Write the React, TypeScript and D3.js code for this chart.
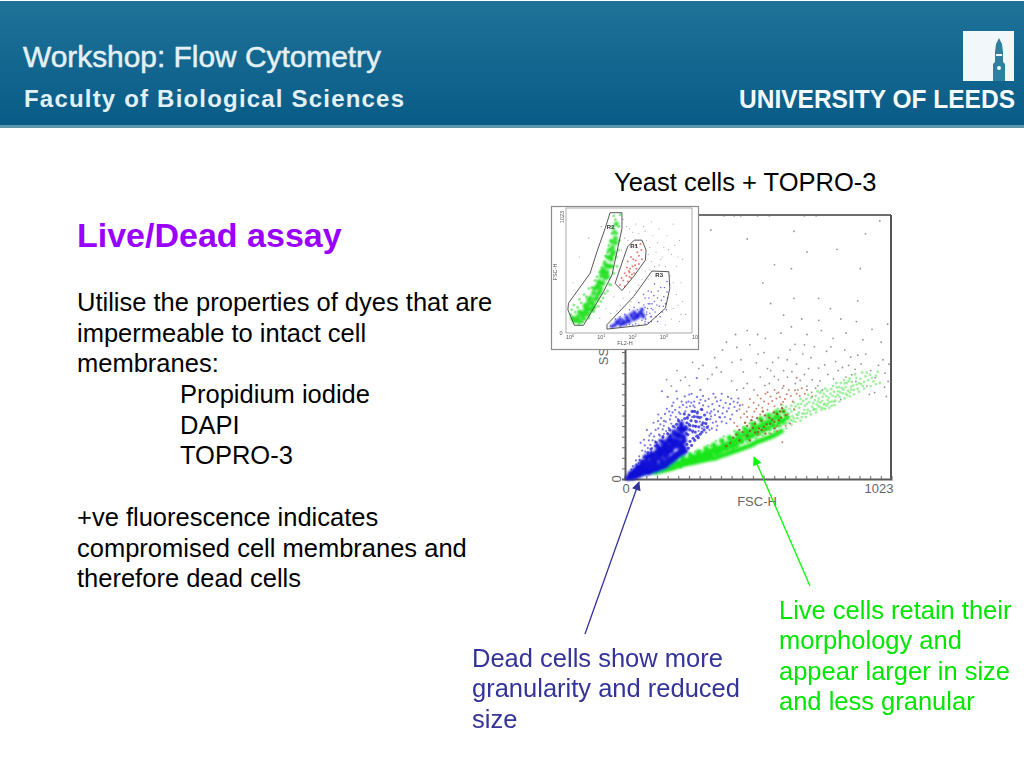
import { useEffect, useRef } from 'react';
import * as d3 from 'd3';

type Pt = [number, number];

const bodyLines = [
    { text: 'Utilise the properties of dyes that are', x: 77, y: 311 },
    { text: 'impermeable to intact cell', x: 77, y: 342 },
    { text: 'membranes:', x: 77, y: 372 },
    { text: 'Propidium iodide', x: 180, y: 403 },
    { text: 'DAPI', x: 180, y: 434 },
    { text: 'TOPRO-3', x: 180, y: 464 },
    { text: '+ve fluorescence indicates', x: 77, y: 526 },
    { text: 'compromised cell membranes and', x: 77, y: 557 },
    { text: 'therefore dead cells', x: 77, y: 587 }
];
const liveNote = ['Live cells retain their', 'morphology and', 'appear larger in size', 'and less granular'];
const deadNote = ['Dead cells show more', 'granularity and reduced', 'size'];

// main plot, FSC-H / SSC-H channels
const blueCore: Pt[] = [[12, 4], [18, 12], [24, 8], [22, 22], [30, 12], [34, 24], [38, 18], [36, 34], [42, 28], [46, 20], [50, 36], [54, 26], [48, 48], [58, 42], [62, 30], [66, 52], [70, 38], [64, 66], [74, 58], [60, 44], [78, 38], [82, 70], [86, 50], [80, 86], [92, 62], [94, 88], [98, 48], [104, 74], [108, 60], [102, 98], [112, 90], [116, 72], [118, 60], [122, 104], [128, 82], [124, 128], [132, 114], [136, 92], [140, 72], [144, 120], [148, 100], [142, 146], [152, 136], [156, 86], [158, 112], [162, 98], [166, 150], [170, 124], [174, 164], [178, 110], [180, 140], [184, 122], [188, 182], [192, 150], [196, 170], [200, 128], [204, 146], [208, 194], [212, 166], [216, 214], [220, 142], [222, 186], [226, 164], [234, 196], [28, 6], [40, 10], [52, 14], [60, 18], [70, 22], [76, 28], [84, 24], [92, 34], [96, 26], [104, 38], [110, 32], [116, 44], [124, 36], [130, 50], [136, 42], [142, 58], [148, 46], [154, 64], [160, 52], [166, 72], [172, 62], [178, 82], [184, 72], [190, 92], [196, 82], [202, 100], [208, 92], [214, 112], [220, 100], [226, 122], [232, 108], [130, 98], [138, 110], [150, 118], [160, 132], [168, 106], [176, 150], [190, 136], [204, 172], [214, 130], [228, 148], [218, 198]];
const blueMid: Pt[] = [[88, 102], [100, 116], [120, 142], [146, 164], [164, 176], [172, 190], [186, 204], [198, 212], [206, 226], [230, 234], [228, 252], [238, 218], [242, 172], [246, 248], [250, 190], [254, 226], [258, 262], [262, 206], [266, 242], [270, 182], [274, 222], [278, 256], [284, 202], [288, 238], [294, 270], [300, 218], [306, 248], [314, 232], [238, 134], [244, 120], [250, 146], [256, 130], [262, 158], [268, 150], [276, 166], [282, 160], [290, 174], [296, 182], [304, 190], [316, 200], [236, 176], [248, 210], [260, 186], [272, 204], [280, 240], [296, 210], [310, 216], [268, 262], [240, 236]];
const greenCore: Pt[] = [[60, 18], [72, 24], [84, 26], [96, 30], [90, 36], [104, 28], [110, 32], [125, 40], [140, 44], [155, 48], [170, 52], [185, 58], [200, 60], [215, 66], [230, 72], [245, 74], [260, 84], [275, 88], [290, 92], [305, 100], [320, 106], [335, 112], [350, 118], [365, 122], [380, 132], [395, 136], [410, 144], [425, 152], [440, 160], [455, 172], [470, 178], [485, 190], [500, 196], [515, 204], [530, 212], [545, 220], [560, 226], [575, 236], [590, 242], [118, 28], [132, 52], [148, 38], [162, 60], [176, 44], [192, 72], [208, 52], [222, 82], [238, 60], [252, 92], [268, 76], [282, 104], [296, 82], [312, 118], [326, 94], [342, 132], [356, 106], [372, 148], [386, 118], [402, 160], [416, 130], [432, 176], [446, 146], [462, 194], [476, 162], [492, 212], [506, 180], [522, 232], [536, 198], [552, 246], [566, 212], [582, 258], [596, 226], [610, 262], [622, 240], [120, 26], [135, 30], [150, 34], [165, 38], [180, 42], [195, 47], [210, 52], [224, 56], [240, 60], [255, 63], [270, 66], [285, 70], [300, 73], [315, 76], [330, 79], [345, 81], [360, 86], [375, 92], [390, 97], [405, 103], [420, 108], [435, 113], [450, 118], [465, 124], [481, 130], [495, 137], [510, 145], [525, 150], [540, 156], [555, 162], [570, 168], [585, 176], [600, 185], [230, 62], [250, 70], [270, 80], [290, 84], [310, 90], [330, 96], [350, 104], [370, 112], [390, 120], [410, 126], [430, 136], [450, 148], [470, 158], [490, 168], [510, 176], [530, 186], [550, 196], [570, 206], [590, 214], [610, 226]];
const redCore: Pt[] = [[470, 206], [500, 214], [525, 226], [555, 238], [585, 252], [610, 262], [440, 190], [480, 186], [515, 196], [545, 212], [575, 222], [600, 238], [452, 182], [462, 218], [492, 198], [508, 236], [534, 202], [538, 246], [566, 230], [572, 258], [592, 228], [604, 274], [618, 248], [486, 228], [428, 172], [416, 160], [530, 262], [558, 214], [512, 182], [596, 262], [440, 150], [470, 168], [500, 180], [525, 190], [390, 128], [405, 140], [480, 150], [540, 176], [575, 196]];
const blueDots: Pt[] = [[30, 50], [42, 72], [55, 88], [48, 40], [66, 110], [76, 130], [70, 70], [88, 92], [92, 150], [104, 120], [100, 176], [116, 146], [122, 105], [128, 196], [134, 168], [142, 132], [150, 225], [158, 186], [166, 150], [170, 262], [178, 214], [188, 172], [186, 296], [196, 240], [204, 200], [210, 278], [220, 228], [232, 262], [226, 190], [244, 214], [250, 282], [258, 240], [270, 225], [266, 300], [280, 262], [294, 240], [300, 285], [312, 212], [316, 258], [328, 232], [336, 290], [346, 248], [358, 262], [368, 305], [378, 276], [392, 262], [404, 290], [418, 300], [436, 312], [442, 285], [322, 310], [290, 345], [276, 391], [230, 320], [198, 340], [142, 340], [164, 318], [128, 250], [110, 218], [84, 190], [60, 140], [36, 30], [24, 36], [52, 62], [62, 52], [82, 72], [96, 90], [112, 92], [124, 132], [138, 118], [146, 160], [158, 132], [174, 170], [182, 146], [192, 200], [206, 164], [216, 182], [234, 204], [252, 205], [262, 262], [274, 242], [288, 222], [304, 202], [318, 232], [332, 262], [350, 222], [366, 238], [384, 240], [300, 322], [256, 330], [244, 300], [218, 300], [176, 246], [154, 252], [136, 212], [118, 190], [98, 132], [78, 106], [340, 330], [372, 330], [396, 318], [430, 264], [412, 250], [312, 180], [334, 196], [352, 190], [270, 205], [240, 240], [204, 232], [168, 198], [150, 175], [132, 150], [106, 150], [88, 120], [260, 180], [282, 170], [73, 152], [94, 168], [112, 165], [127, 224], [139, 236], [149, 206], [161, 272], [173, 231], [181, 283], [193, 268], [201, 311], [213, 252], [223, 287], [237, 278], [247, 327], [255, 296], [268, 278], [277, 318], [286, 294], [297, 268], [309, 303], [321, 281], [331, 243], [343, 269], [354, 301], [363, 283], [375, 254], [387, 295], [399, 274], [409, 312], [421, 279], [433, 296], [348, 316], [363, 240], [327, 254], [291, 307], [263, 284], [236, 296], [208, 258], [183, 258], [157, 222], [145, 192], [131, 172], [115, 128], [101, 104], [85, 82], [71, 84], [56, 74], [44, 56], [320, 205], [338, 218], [355, 206], [372, 222], [390, 216], [405, 232], [325, 190], [296, 196], [283, 186]];
const greenDots: Pt[] = [[70, 20], [95, 24], [120, 52], [145, 30], [165, 36], [190, 42], [215, 46], [205, 80], [235, 56], [255, 62], [250, 98], [275, 70], [295, 78], [290, 110], [315, 88], [330, 128], [345, 96], [370, 108], [375, 150], [395, 118], [405, 162], [425, 130], [440, 180], [450, 142], [470, 156], [480, 216], [490, 170], [510, 178], [520, 232], [535, 192], [555, 200], [565, 250], [570, 212], [590, 218], [600, 262], [610, 230], [620, 280], [630, 240], [640, 262], [650, 296], [660, 250], [670, 276], [675, 310], [690, 268], [700, 292], [705, 326], [720, 280], [730, 306], [740, 340], [750, 296], [760, 318], [770, 350], [780, 306], [790, 330], [800, 360], [810, 318], [820, 340], [830, 372], [840, 346], [850, 330], [860, 380], [870, 358], [880, 345], [890, 392], [900, 372], [915, 360], [925, 398], [935, 382], [950, 392], [965, 400], [980, 372], [625, 232], [645, 225], [665, 290], [685, 302], [712, 262], [735, 270], [755, 340], [775, 284], [795, 300], [815, 355], [845, 370], [865, 335], [895, 350], [680, 240], [640, 284], [600, 240], [580, 200], [545, 236], [500, 220], [455, 200], [420, 186], [380, 165], [350, 148], [320, 130], [270, 105], [230, 92], [185, 74], [150, 60], [430, 124], [470, 142], [520, 172], [560, 190], [620, 215], [633, 272], [628, 254], [644, 243], [652, 268], [656, 281], [663, 235], [669, 258], [677, 291], [683, 254], [692, 284], [698, 310], [703, 268], [709, 298], [716, 314], [724, 294], [727, 272], [733, 322], [738, 288], [745, 312], [749, 334], [753, 278], [758, 302], [764, 330], [768, 292], [773, 322], [778, 342], [783, 316], [787, 298], [793, 348], [798, 322], [804, 338], [808, 304], [813, 372], [818, 326], [824, 356], [828, 336], [835, 352], [842, 384], [848, 356], [854, 372], [858, 342], [864, 390], [872, 376], [878, 362], [885, 406], [892, 366], [905, 388], [912, 412], [920, 376], [930, 412], [942, 404], [955, 378], [972, 416], [592, 204], [606, 218], [614, 246], [638, 228], [604, 286], [588, 272], [620, 196], [640, 210], [655, 222], [675, 226], [695, 240], [715, 250], [735, 258], [755, 268], [770, 272], [785, 276], [805, 286], [825, 300], [845, 312], [865, 320], [880, 328], [900, 338], [920, 350], [945, 360], [965, 368], [600, 205], [650, 235], [700, 255], [725, 268], [745, 282], [765, 288], [795, 284], [825, 318], [855, 325], [610, 212], [630, 218], [665, 248], [690, 252], [742, 300], [762, 274], [780, 292], [805, 300], [838, 332], [870, 346], [908, 368], [575, 185], [555, 178], [530, 168], [505, 158], [480, 146]];
const redDots: Pt[] = [[420, 218], [445, 238], [468, 262], [490, 240], [505, 272], [520, 250], [535, 300], [548, 268], [560, 320], [575, 282], [590, 335], [600, 290], [615, 310], [630, 345], [645, 300], [660, 330], [680, 352], [700, 345], [720, 320], [650, 270], [625, 250], [540, 190], [585, 205], [560, 175], [510, 170], [470, 240], [495, 295], [440, 270], [610, 360], [575, 345], [540, 330], [510, 325], [480, 310], [660, 392], [635, 215], [605, 142], [432, 204], [458, 252], [476, 278], [498, 262], [514, 286], [528, 276], [552, 292], [566, 302], [582, 312], [596, 318], [608, 298], [622, 328], [638, 322], [654, 344], [672, 322], [692, 330], [548, 336], [522, 312], [452, 288], [585, 186], [618, 206]];
const greyDots: Pt[] = [[160, 385], [200, 420], [232, 395], [260, 452], [300, 440], [345, 470], [375, 500], [390, 530], [430, 510], [455, 415], [480, 520], [505, 450], [535, 490], [555, 370], [590, 470], [610, 420], [635, 500], [660, 445], [690, 520], [715, 470], [745, 430], [775, 495], [810, 455], [845, 500], [860, 440], [895, 480], [945, 420], [975, 440], [1000, 410], [430, 345], [470, 370], [520, 395], [560, 420], [590, 385], [625, 395], [655, 370], [690, 405], [720, 385], [750, 380], [780, 405], [820, 420], [850, 395], [885, 425], [930, 360], [960, 335], [1015, 445], [1005, 320], [760, 345], [700, 360], [665, 345], [410, 380], [370, 415], [335, 405], [510, 560], [540, 545], [600, 565], [640, 590], [700, 560], [755, 575], [800, 545], [850, 565], [915, 540], [950, 580], [985, 530], [470, 575], [425, 560], [650, 700], [680, 620], [745, 615], [830, 620], [890, 610], [560, 680], [610, 635], [530, 760], [575, 830], [640, 815], [700, 880], [815, 890], [905, 815], [925, 950], [650, 960], [470, 930], [330, 965], [745, 700], [790, 660], [895, 690], [1010, 600], [380, 1020], [420, 1020], [445, 1020], [510, 1020], [555, 1020], [690, 1020], [735, 1020], [980, 1000], [496, 345], [538, 362], [574, 398], [606, 352], [642, 416], [674, 382], [706, 428], [733, 352], [768, 442], [802, 388], [836, 432], [872, 404], [908, 446], [962, 392], [992, 462], [1012, 378], [446, 462], [512, 484], [568, 452], [624, 462], [684, 484], [728, 512], [792, 512], [868, 472], [926, 484], [412, 452], [352, 432], [318, 388], [284, 428], [248, 362], [214, 382], [178, 360], [456, 352], [548, 428], [654, 522], [742, 362], [888, 378], [584, 332], [718, 336], [830, 308], [940, 328], [998, 356]];

// inset plot, decades of FL2-H / FSC-H channel
const insetGreen: Pt[] = [[0.15, 95], [0.25, 130], [0.32, 90], [0.38, 165], [0.42, 115], [0.5, 200], [0.55, 150], [0.58, 240], [0.65, 190], [0.66, 290], [0.74, 235], [0.75, 330], [0.82, 280], [0.85, 380], [0.9, 325], [0.92, 430], [0.98, 370], [1.0, 480], [1.05, 415], [1.06, 530], [1.12, 460], [1.12, 580], [1.18, 510], [1.2, 640], [1.25, 560], [1.26, 700], [1.32, 620], [1.34, 770], [1.4, 680], [1.42, 850], [1.46, 760], [1.48, 920], [0.08, 120], [0.22, 105], [0.3, 170], [0.4, 140], [0.48, 225], [0.5, 170], [0.58, 200], [0.6, 280], [0.7, 250], [0.72, 200], [0.78, 370], [0.85, 290], [0.9, 400], [0.95, 340], [1.0, 420], [1.02, 520], [1.1, 500], [1.18, 560], [1.2, 470], [1.28, 630], [1.3, 560], [1.36, 720], [1.45, 800], [1.35, 660]];
const insetBlue: Pt[] = [[1.45, 62], [1.55, 80], [1.62, 66], [1.7, 95], [1.76, 78], [1.84, 112], [1.9, 92], [1.98, 130], [2.04, 108], [2.1, 148], [2.18, 128], [2.25, 170], [2.32, 150], [1.35, 50], [1.5, 90], [1.6, 110], [1.7, 70], [1.8, 130], [1.85, 90], [1.95, 150], [2.05, 170], [2.1, 120], [2.2, 150], [2.3, 190], [2.35, 130]];
const insetGreenDots: Pt[] = [[0.05, 190], [0.12, 230], [0.2, 90], [0.3, 280], [0.4, 85], [0.45, 320], [0.6, 120], [0.6, 370], [0.75, 175], [0.8, 440], [0.9, 220], [0.95, 510], [1.05, 290], [1.1, 600], [1.2, 350], [1.2, 680], [1.3, 400], [1.3, 780], [1.4, 500], [1.4, 880], [1.5, 560], [1.55, 700], [1.58, 780], [1.6, 1000], [1.45, 960], [1.35, 900], [0.02, 150], [0.1, 120], [0.16, 170], [0.24, 210], [0.28, 70], [0.36, 250], [0.48, 110], [0.52, 300], [0.62, 160], [0.7, 380], [0.8, 210], [0.86, 470], [0.98, 260], [1.02, 550], [1.12, 330], [1.14, 650], [1.26, 410], [1.24, 740], [1.36, 560], [1.34, 840], [1.48, 640], [1.5, 840], [1.56, 900], [1.4, 990]];
const insetBlueDots: Pt[] = [[1.3, 50], [1.45, 110], [1.6, 130], [1.75, 150], [1.9, 65], [1.9, 190], [2.05, 210], [2.1, 70], [2.2, 250], [2.3, 100], [2.3, 200], [2.4, 290], [2.45, 150], [2.5, 80], [2.55, 240], [2.6, 340], [2.65, 190], [2.75, 130], [2.8, 290], [2.85, 220], [2.9, 380], [2.95, 170], [3.0, 300], [3.05, 240], [3.1, 430], [3.1, 340], [2.7, 410], [2.5, 350], [2.35, 320], [2.2, 170], [1.6, 50], [1.8, 60], [2.0, 150], [2.15, 190], [2.28, 130], [2.36, 230], [2.42, 110], [2.48, 200], [2.52, 290], [2.58, 130], [2.62, 240], [2.68, 310], [2.72, 170], [2.78, 230], [2.82, 350], [2.88, 130], [2.92, 270], [2.98, 220], [3.02, 380], [3.08, 190], [3.12, 290], [2.4, 70], [2.6, 90], [2.8, 90], [2.2, 60], [2.0, 60], [2.4, 210], [2.45, 170], [2.5, 240], [2.55, 160], [2.6, 200], [2.7, 260], [2.4, 90], [2.6, 130]];
const insetRed: Pt[] = [[1.6, 400], [1.7, 440], [1.75, 390], [1.8, 480], [1.85, 430], [1.9, 510], [1.95, 460], [2.0, 560], [2.05, 500], [2.1, 610], [2.12, 540], [2.2, 650], [2.2, 580], [2.28, 700], [2.3, 620], [1.95, 640], [1.85, 600], [2.1, 740], [1.75, 500], [1.82, 550], [1.92, 540], [1.98, 490], [2.02, 620], [2.08, 570], [2.15, 680], [1.65, 460], [1.9, 470], [1.88, 520], [2.25, 750]];
const insetGrey: Pt[] = [[1.7, 960], [1.9, 880], [2.1, 920], [2.4, 860], [2.6, 940], [2.85, 880], [3.1, 820], [3.3, 920], [3.5, 780], [2.55, 720], [2.75, 680], [3.0, 720], [3.25, 660], [3.6, 620], [2.6, 600], [2.85, 570], [3.4, 560], [3.55, 420], [3.4, 320], [3.3, 200], [3.6, 260], [2.0, 850], [1.75, 800], [1.65, 700], [1.55, 520], [1.4, 300], [1.15, 200], [0.95, 120], [1.6, 230], [1.3, 160], [1.9, 340], [2.4, 520], [2.5, 450], [3.7, 150], [3.5, 90], [3.05, 60], [0.3, 640], [0.6, 800], [0.1, 420], [1.0, 900], [1.8, 900], [2.2, 840], [2.45, 780], [2.5, 660], [2.65, 820], [2.7, 560], [2.8, 760], [2.95, 640], [3.05, 560], [3.15, 700], [3.2, 480], [3.35, 740], [3.45, 640], [2.55, 530], [2.75, 480], [2.95, 480], [2.3, 450], [2.2, 400], [2.1, 350], [1.7, 290], [1.95, 260], [1.5, 180], [3.3, 420], [3.45, 230], [3.55, 150], [3.25, 110], [1.85, 780], [1.95, 720], [2.35, 900], [2.9, 620]];

const axisTicks = d3.range(0, 1024, 41);
const insetDecades = [0, 1, 2, 3, 4];

const gates: { name: string; labelAt: Pt; points: Pt[] }[] = [
    { name: 'R2', labelAt: [1.3, 880], points: [[1.28, 1017], [1.66, 1017], [1.66, 882], [1.34, 486], [1.07, 345], [0.43, 57], [0.14, 57], [-0.07, 189], [-0.05, 246], [0.64, 500], [0.86, 684], [1.12, 882]] },
    { name: 'R1', labelAt: [2.05, 720], points: [[2.05, 783], [2.3, 783], [2.43, 698], [2.41, 613], [2.03, 472], [1.66, 353], [1.44, 415], [1.71, 627], [1.84, 726]] },
    { name: 'R3', labelAt: [2.85, 470], points: [[2.62, 520], [3.16, 514], [3.19, 373], [3.05, 203], [2.46, 62], [1.18, 25], [1.18, 62], [2.03, 302]] }
];

const App = () => {
    const svgRef = useRef<SVGSVGElement>(null);

    useEffect(() => {
        if (!svgRef.current) return;
        const svg = d3.select(svgRef.current);
        svg.selectAll('*').remove();

        const font = '"Liberation Sans", Arial, sans-serif';
        const defs = svg.append('defs');
        const grad = defs.append('linearGradient').attr('id', 'head').attr('x2', 0).attr('y2', 1);
        grad.append('stop').attr('offset', 0).attr('stop-color', '#1f7298');
        grad.append('stop').attr('offset', 1).attr('stop-color', '#075b86');
        defs.append('filter').attr('id', 'soft').append('feGaussianBlur').attr('stdDeviation', 0.4);
        defs.append('filter').attr('id', 'soft2').append('feGaussianBlur').attr('stdDeviation', 0.8);
        const marker = (id: string, colour: string) => defs.append('marker')
            .attr('id', id).attr('viewBox', '0 0 10 10').attr('refX', 9).attr('refY', 5)
            .attr('markerWidth', 11).attr('markerHeight', 9).attr('markerUnits', 'userSpaceOnUse')
            .attr('orient', 'auto').append('path').attr('d', 'M0,0L10,5L0,10Z').attr('fill', colour);
        marker('navyHead', '#333399');
        marker('greenHead', '#00ff00');

        // Header band
        svg.append('rect').attr('x', 0).attr('y', 1).attr('width', 1024).attr('height', 126).attr('fill', 'url(#head)');
        svg.append('rect').attr('x', 0).attr('y', 125).attr('width', 1024).attr('height', 3).attr('fill', '#5d95ad');
        const head = svg.append('g').attr('font-family', font);
        head.append('text').attr('x', 23).attr('y', 67).attr('font-size', 30).attr('fill', '#e3f1f6')
            .attr('stroke', '#e3f1f6').attr('stroke-width', 0.5)
            .attr('textLength', 358).attr('lengthAdjust', 'spacingAndGlyphs').text('Workshop: Flow Cytometry');
        head.append('text').attr('x', 24).attr('y', 107).attr('font-size', 24).attr('font-weight', 'bold').attr('fill', '#e3f1f6')
            .attr('textLength', 380).text('Faculty of Biological Sciences');
        head.append('text').attr('x', 739).attr('y', 108).attr('font-size', 25).attr('font-weight', 'bold').attr('fill', '#f4fafc')
            .attr('textLength', 276).attr('lengthAdjust', 'spacingAndGlyphs').text('UNIVERSITY OF LEEDS');
        // Crest
        head.append('rect').attr('x', 963).attr('y', 31).attr('width', 51).attr('height', 50).attr('fill', '#f2f8fa');
        head.append('path').attr('fill', '#2f7f9e')
            .attr('d', 'M999,38L1002,44L1003,52L1003,62L1005,64L1005,81L993,81L993,64L995,62L995,52L996,44Z');
        head.append('rect').attr('x', 996).attr('y', 54).attr('width', 6).attr('height', 2).attr('fill', '#f2f8fa');
        head.append('circle').attr('cx', 999).attr('cy', 68).attr('r', 2).attr('fill', '#f2f8fa');

        // Left text
        const text = svg.append('g').attr('font-family', font);
        text.append('text').attr('x', 77).attr('y', 247).attr('font-size', 34).attr('font-weight', 'bold')
            .attr('fill', '#9900ff').text('Live/Dead assay');
        text.selectAll('.body').data(bodyLines).enter().append('text').attr('class', 'body')
            .attr('x', d => d.x).attr('y', d => d.y).attr('font-size', 25.5).attr('fill', '#000').text(d => d.text);
        text.append('text').attr('x', 614).attr('y', 191).attr('font-size', 25.5).attr('fill', '#000').text('Yeast cells + TOPRO-3');

        // Main scatter
        const x = d3.scaleLinear().domain([0, 1023]).range([625, 891]);
        const y = d3.scaleLinear().domain([0, 1023]).range([479, 215]);
        const plot = svg.append('g').attr('font-family', font);
        const frame = plot.append('g').attr('stroke', '#6e6e6e').attr('stroke-width', 2);
        frame.append('line').attr('x1', x(0)).attr('x2', x(1023)).attr('y1', y(1023)).attr('y2', y(1023));
        frame.append('line').attr('x1', x(1023)).attr('x2', x(1023)).attr('y1', y(0)).attr('y2', y(1023)).attr('stroke', '#555');
        const xAxis = plot.append('g').attr('transform', `translate(0,${y(0)})`)
            .call(d3.axisTop(x).tickValues(axisTicks).tickSize(3).tickFormat(() => ''));
        const yAxis = plot.append('g').attr('transform', `translate(${x(0)},0)`)
            .call(d3.axisLeft(y).tickValues(axisTicks).tickSize(3).tickFormat(() => ''));
        [xAxis, yAxis].forEach(a => {
            a.select('.domain').attr('stroke', '#5a5a5a').attr('stroke-width', 2);
            a.selectAll('line').attr('stroke', '#666');
        });
        const labels = plot.append('g').attr('font-size', 13).attr('fill', '#666');
        labels.append('text').attr('x', x(0) + 1).attr('y', 493).attr('text-anchor', 'middle').text('0');
        labels.append('text').attr('x', x(1023) - 12).attr('y', 493).attr('text-anchor', 'middle').text('1023');
        labels.append('text').attr('x', 757).attr('y', 506).attr('text-anchor', 'middle').text('FSC-H');
        labels.append('text').attr('transform', `translate(621,${y(0)}) rotate(-90)`).attr('text-anchor', 'middle').text('0');
        labels.append('text').attr('transform', 'translate(608,345) rotate(-90)').attr('text-anchor', 'middle').text('SSC-H');

        const drawDots = (
            g: d3.Selection<SVGGElement, unknown, null, undefined>,
            pts: Pt[], colour: string, r: number, opacity: number,
            sx: (v: number) => number, sy: (v: number) => number
        ) => {
            g.append('g').selectAll('circle').data(pts).enter().append('circle')
                .attr('cx', d => sx(d[0])).attr('cy', d => sy(d[1]))
                .attr('r', r).attr('fill', colour).attr('opacity', opacity);
        };
        const dots = plot.append('g').attr('filter', 'url(#soft)');
        drawDots(dots, greyDots, '#6f6f78', 0.9, 0.75, x, y);
        drawDots(dots, blueDots, '#4040dc', 1.1, 0.7, x, y);
        drawDots(dots, blueMid, '#2a2ad8', 1.6, 0.8, x, y);
        drawDots(dots, greenDots, '#66e866', 1.4, 0.6, x, y);
        const cores = plot.append('g').attr('filter', 'url(#soft2)');
        drawDots(cores, greenCore, '#16e616', 2.8, 0.95, x, y);
        drawDots(cores, blueCore, '#1212d6', 2.8, 0.95, x, y);
        const top = plot.append('g').attr('filter', 'url(#soft)');
        drawDots(top, redCore, '#8a5a20', 1.2, 0.85, x, y);
        drawDots(top, redDots, '#c8604a', 1, 0.8, x, y);

        // Inset
        const inset = svg.append('g').attr('font-family', font);
        inset.append('rect').attr('x', 551.5).attr('y', 206.5).attr('width', 147).attr('height', 143)
            .attr('fill', '#fff').attr('stroke', '#8c8c8c').attr('stroke-width', 1.2);
        const ix = d3.scaleLinear().domain([-0.13, 3.9]).range([566, 692]);
        const iy = d3.scaleLinear().domain([0, 1023]).range([332, 212]);
        inset.append('rect').attr('x', 566).attr('y', 208).attr('width', 126).attr('height', 125)
            .attr('fill', 'none').attr('stroke', '#888').attr('stroke-width', 0.7);
        const isoft = inset.append('g').attr('filter', 'url(#soft)');
        drawDots(isoft, insetGrey, '#808080', 0.55, 0.8, ix, iy);
        drawDots(isoft, insetGreenDots, '#66e866', 1.5, 0.7, ix, iy);
        const icore = inset.append('g').attr('filter', 'url(#soft2)');
        drawDots(icore, insetGreen, '#1ce01c', 2.5, 0.9, ix, iy);
        drawDots(icore, insetBlue, '#1414e0', 1.9, 0.95, ix, iy);
        const isoft2 = inset.append('g').attr('filter', 'url(#soft)');
        drawDots(isoft2, insetRed, '#e8645c', 1, 0.85, ix, iy);
        drawDots(isoft2, insetBlueDots, '#4c4ce6', 0.8, 0.85, ix, iy);
        const gateLine = d3.line<Pt>().x(d => ix(d[0])).y(d => iy(d[1])).curve(d3.curveLinearClosed);
        inset.selectAll('.gate').data(gates).enter().append('path').attr('class', 'gate')
            .attr('d', d => gateLine(d.points)).attr('fill', 'none').attr('stroke', '#444').attr('stroke-width', 0.9);
        inset.selectAll('.gateLabel').data(gates).enter().append('text').attr('class', 'gateLabel')
            .attr('x', d => ix(d.labelAt[0])).attr('y', d => iy(d.labelAt[1])).attr('font-size', 6).attr('font-weight', 'bold')
            .attr('text-anchor', 'middle').attr('fill', '#333').text(d => d.name);
        const tickText = inset.append('g').attr('font-size', 5.5).attr('fill', '#555');
        insetDecades.forEach(d => {
            const label = tickText.append('text').attr('x', ix(d)).attr('y', 339).attr('text-anchor', 'middle').text('10');
            if (d < 4) label.append('tspan').attr('font-size', 4).attr('dy', -2).text(d);
        });
        tickText.append('text').attr('x', 625).attr('y', 345).attr('text-anchor', 'middle').text('FL2-H');
        tickText.append('text').attr('transform', 'translate(557,272) rotate(-90)').attr('text-anchor', 'middle').text('FSC-H');
        tickText.append('text').attr('transform', 'translate(564,217) rotate(-90)').attr('text-anchor', 'middle').text('1023');
        tickText.append('text').attr('x', 561).attr('y', 335).attr('text-anchor', 'middle').text('0');

        // Notes and arrows
        const notes = svg.append('g').attr('font-family', font).attr('font-size', 25.5);
        notes.append('line').attr('x1', 585).attr('y1', 634).attr('x2', 639).attr('y2', 482)
            .attr('stroke', '#333399').attr('stroke-width', 1.3).attr('marker-end', 'url(#navyHead)');
        notes.append('line').attr('x1', 810).attr('y1', 586).attr('x2', 754).attr('y2', 457)
            .attr('stroke', '#00ff00').attr('stroke-width', 1.3).attr('marker-end', 'url(#greenHead)');
        notes.selectAll('.live').data(liveNote).enter().append('text').attr('class', 'live')
            .attr('x', 779).attr('y', (_, i) => 618.5 + i * 30.6).attr('fill', '#00e600').text(d => d);
        notes.selectAll('.dead').data(deadNote).enter().append('text').attr('class', 'dead')
            .attr('x', 472).attr('y', (_, i) => 666.5 + i * 30.6).attr('fill', '#333399').text(d => d);
    }, []);

    return <svg ref={svgRef} width={1024} height={768} style={{ position: 'absolute', left: 0, top: 0, display: 'block', background: '#fff' }} />;
};

export default App;
